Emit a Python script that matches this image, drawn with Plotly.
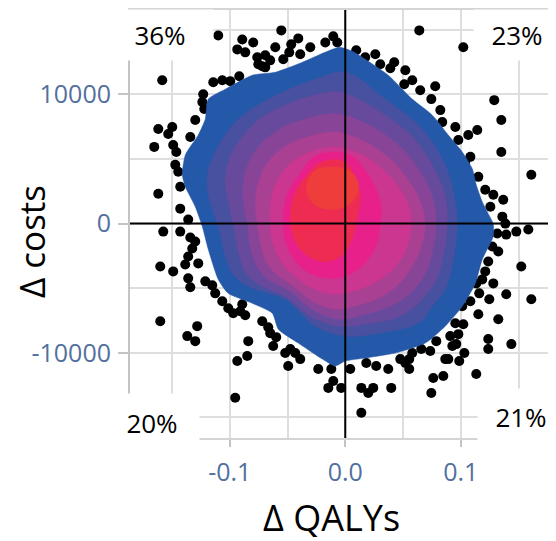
import plotly.graph_objects as go

# ---------------- data ----------------
dots_x = [-0.110, -0.0892, -0.0797, -0.0935, -0.0762, -0.0693, -0.0753, -0.0693, -0.0554, -0.0407, -0.0468, -0.0485,
          -0.0104, -0.0069, 0.0095, 0.0260, 0.0303, 0.0424, 0.0520, 0.0641, 0.1022,
          -0.1585, -0.1143, -0.0996, -0.0918, -0.1238, -0.1221, -0.1619, -0.1498, -0.1533, -0.1654, -0.1490, -0.1472,
          -0.1446, -0.1429, -0.1619, -0.1429,
          -0.1576, -0.1429, -0.1342, -0.1325, -0.1360, -0.1602, -0.1490, -0.1386, -0.1360, -0.1342, -0.1152, -0.1126,
          -0.1602, -0.1368, -0.1299, -0.1282, -0.1013, -0.0970, -0.0892, -0.0866, -0.0840, -0.0849, -0.0935, -0.0953,
          -0.0650, -0.0624, -0.0667, -0.0598, -0.0520, -0.0433, -0.0390, -0.0494,
          -0.0121, -0.0104, -0.0147, -0.0035, 0.0139, 0.0199, 0.0242, 0.0139, 0.0182, 0.0268, 0.0372, 0.0398, 0.0554,
          0.0554, 0.0658, 0.0788, 0.0762, 0.0849, 0.0745, 0.0892, 0.0987, 0.1134, 0.0580, 0.0520,
          0.1134, 0.1282, 0.1160, 0.1394, 0.1611, 0.1247, 0.1152, 0.1325, 0.1022, 0.0979, 0.0961, 0.1031, 0.1238,
          0.1238, 0.1438, 0.1013, 0.0953, 0.0927, 0.0866,
          0.1360, 0.1316, 0.1273, 0.1238, 0.1186, 0.1481, 0.1585, 0.1394, 0.1524, 0.1368, 0.1282, 0.1212,
          0.0511, 0.0779, 0.0745, 0.0840, 0.0953, 0.1065, 0.1143, 0.1083, 0.1290, 0.1351, 0.1351, 0.1611,
          -0.0866, -0.0650, -0.0390, -0.0303, -0.0173, 0.0173, 0.0390, 0.0580, 0.0649, 0.0823, 0.0979, 0.1039,
          0.1152, 0.1256, 0.1386, 0.1325, 0.1212, 0.1083, 0.0909, 0.0736, 0.0476, 0.0043, -0.0234, -0.0476,
          -0.0719, -0.0909, -0.1065, -0.1212, -0.1273, -0.1299, -0.1360, -0.1463, -0.1342, -0.1299, -0.1230,
          -0.1065, -0.0719, -0.0537, -0.0606]
dots_y = [14570, 14260, 14030, 13490, 12880, 13030, 12340, 12100, 14960, 14340, 13880, 13260,
          14500, 14030, 13420, 13110, 12340, 12490, 11870, 14960, 13650,
          11100, 10950, 11030, 11410, 9410, 8870, 7320, 7480, 6940, 5940, 6090, 4550,
          4010, 2850, 2310, 1160,
          -620, -620, -1080, -1930, -2540, -3320, -3700, -3160, -4240, -4930, -4780, -5400,
          -7560, -8710, -9100, -7940, -6550, -6940, -6250, -7090, -9100, -10250, -10640, -13490,
          -8480, -9480, -8020, -8790, -10020, -10020, -10490, -11030,
          -11260, -12180, -12720, -12720, -12720, -13110, -12720, -14650, -10790, -11030, -11260, -12720, -10490,
          -11260, -9710, -9100, -11950, -11800, -13110, -10490, -10640, -11640, -10020, -10790,
          -4630, -4630, -5400, -5470, -5860, -5860, -7020, -7400, -7790, -8560, -9330, -10020, -8940,
          -9710, -9330, -6400, -7710, -9480, -10490,
          540, -770, -1770, -2930, -4320, -620, -460, -850, -3320, 1850, 2240, 2620,
          10790, 10640, 9640, 7860, 7480, 6860, 7250, 5170, 9560, 8020, 5550, 3780,
          13260, 12640, 13110, 13650, 14030, 12880, 12030, 11100, 10330, 8790, 6480, 4780,
          3620, 1310, 0, -2160, -3700, -6010, -8710, -9870, -10490, -11260, -11260, -9710,
          -7560, -6780, -6010, -4470, -3080, -1390, 310, 5550, 6710, 8020, 10020,
          11100, 12180, 12720, 13650]

# density bands (outer boundary of each filled level), outermost first
band1_x = [-0.0043, 0.0061, 0.0173, 0.0372, 0.0580, 0.0753, 0.0892, 0.1013, 0.1100, 0.1134, 0.1186, 0.1238, 0.1281,
           0.1281, 0.1186, 0.1126, 0.1013, 0.0866, 0.0693, 0.0433, 0.0173, 0.0, -0.0087, -0.0199, -0.0407, -0.0580,
           -0.0632, -0.0805, -0.1013, -0.1100, -0.1186, -0.1238, -0.1299, -0.1385, -0.1411, -0.1385, -0.1273, -0.1212,
           -0.1186, -0.1039, -0.0805, -0.0606, -0.0372, -0.0216, -0.0087]
band1_y = [13650, 13340, 12720, 11490, 9640, 8400, 6860, 5550, 4240, 3010, 1700, 770, 0,
           -1000, -2780, -4630, -6400, -7940, -9250, -10020, -10410, -10640, -11030, -10490, -9250, -8170,
           -6940, -6170, -5400, -4320, -2000, -230, 1310, 2850, 3780, 5320, 6860, 8100,
           9640, 10410, 11490, 11720, 12490, 13110, 13570]
band2_x = [0.0, 0.0346, 0.0667, 0.0866, 0.0952, 0.0970, 0.0926, 0.0866, 0.0753, 0.0632, 0.0286, 0.0, -0.0260,
           -0.0519, -0.0840, -0.0978, -0.1039, -0.1100, -0.1160, -0.1195, -0.1186, -0.1126, -0.0952, -0.0667, -0.0260]
band2_y = [11720, 9640, 7320, 4550, 1700, 0, -3320, -5090, -6400, -7710, -8480, -8710, -7940,
           -5860, -4860, -3860, -2540, -230, 1310, 2700, 4240, 5550, 7860, 9640, 11180]
band3_x = [-0.0043, 0.0303, 0.0580, 0.0762, 0.0866, 0.0883, 0.0848, 0.0779, 0.0649, 0.0476, 0.0216, -0.0043, -0.0303,
           -0.0519, -0.0753, -0.0866, -0.0926, -0.0970, -0.1013, -0.1039, -0.1013, -0.0926, -0.0753, -0.0519, -0.0260]
band3_y = [10180, 8640, 6710, 4390, 2080, 0, -2540, -4470, -6010, -7170, -7710, -7940, -7170,
           -5630, -4700, -3700, -2160, 0, 1700, 3240, 4780, 6320, 8020, 9170, 9950]
band4_x = [-0.0061, 0.0234, 0.0476, 0.0649, 0.0753, 0.0788, 0.0753, 0.0693, 0.0563, 0.0390, 0.0173, -0.0061,
           -0.0286, -0.0476, -0.0667, -0.0762, -0.0823, -0.0848, -0.0883, -0.0883, -0.0840, -0.0753, -0.0580, -0.0346]
band4_y = [8480, 7480, 5940, 4010, 2080, 0, -2160, -3860, -5400, -6400, -7020, -7400,
           -6630, -5240, -4320, -3320, -1770, 0, 1700, 3240, 4630, 5940, 7250, 8100]
band5_x = [-0.0078, 0.0173, 0.0390, 0.0545, 0.0649, 0.0693, 0.0649, 0.0563, 0.0442, 0.0286, 0.0113, -0.0078,
           -0.0286, -0.0459, -0.0606, -0.0693, -0.0736, -0.0762, -0.0779, -0.0762, -0.0710, -0.0606, -0.0450, -0.0260]
band5_y = [7090, 6320, 5010, 3390, 1700, 0, -2000, -3550, -4860, -5780, -6320, -6630,
           -6010, -4780, -3860, -2780, -1390, 0, 1540, 2850, 4160, 5400, 6320, 6860]
band6_x = [-0.0095, 0.0130, 0.0320, 0.0459, 0.0545, 0.0571, 0.0537, 0.0450, 0.0329, 0.0173, 0.0026, -0.0104,
           -0.0286, -0.0433, -0.0537, -0.0606, -0.0641, -0.0649, -0.0649, -0.0623, -0.0554, -0.0433, -0.0277]
band6_y = [5940, 5400, 4240, 2850, 1460, 0, -1770, -3160, -4160, -4930, -5320, -5470,
           -5010, -4090, -3160, -2000, -1000, 0, 1310, 2620, 3860, 4930, 5630]
band7_x = [-0.0113, 0.0061, 0.0199, 0.0277, 0.0312, 0.0303, 0.0277, 0.0216, 0.0113, -0.0017, -0.0130, -0.0286,
           -0.0407, -0.0485, -0.0528, -0.0537, -0.0528, -0.0485, -0.0398, -0.0268]
band7_y = [5550, 5240, 3780, 2470, 1160, 0, -1390, -2540, -3550, -4090, -4240, -3930,
           -3160, -2160, -1000, 0, 1310, 2620, 3780, 5170]
band8_x = [-0.0130, 0.0, 0.0095, 0.0130, 0.0113, 0.0087, 0.0043, -0.0043, -0.0173, -0.0303, -0.0407, -0.0459,
           -0.0476, -0.0459, -0.0407, -0.0320, -0.0234]
band8_y = [4930, 4780, 3390, 2080, 930, -230, -1540, -2540, -2930, -2620, -1770, -770,
           310, 1700, 2850, 3860, 4630]
band9_x = [-0.0130, 0.0, 0.0087, 0.0113, 0.0061, -0.0061, -0.0216, -0.0303, -0.0338, -0.0303, -0.0234]
band9_y = [4390, 4240, 3620, 2620, 1700, 1160, 1230, 1850, 2780, 3700, 4240]
band_colors = ["#2458a8", "#4850a0", "#684a9d", "#884598", "#a94092", "#cb3690", "#e8218a", "#ee2c52", "#ef3d3c"]

x_tickvals = [-0.1, 0.0, 0.1]
x_ticktext = ["-0.1", "0.0", "0.1"]
y_tickvals = [-10000, 0, 10000]
y_ticktext = ["-10000", "0", "10000"]

quad_labels = ["36%", "23%", "20%", "21%"]
quad_x = [-0.1604, 0.1491, -0.1674, 0.1521]
quad_y = [14610, 14610, -15460, -15000]
quad_w = [106, 86, 94, 86]
quad_h = [50, 50, 58, 56]

# ---------------- figure ----------------
fig = go.Figure()
fig.add_trace(go.Scatter(x=dots_x, y=dots_y, mode="markers",
                         marker=dict(color="black", size=10, line=dict(width=0)),
                         hoverinfo="skip", showlegend=False))

bands_x = [band1_x, band2_x, band3_x, band4_x, band5_x, band6_x, band7_x, band8_x, band9_x]
bands_y = [band1_y, band2_y, band3_y, band4_y, band5_y, band6_y, band7_y, band8_y, band9_y]
for i, (bx, by, col) in enumerate(zip(bands_x, bands_y, band_colors)):
    fig.add_trace(go.Scatter(x=bx + bx[:1], y=by + by[:1], mode="lines", fill="toself",
                             fillcolor=col, line=dict(color=col, width=0.5,
                                                      shape="spline", smoothing=0.6 if i == 0 else 1.0),
                             hoverinfo="skip", showlegend=False))

grid_col = "#dedede"
tick_font = dict(family="Open Sans", size=25, color="#52709e")
fig.update_xaxes(range=[-0.1864, 0.1816], tickmode="array", tickvals=x_tickvals, ticktext=x_ticktext,
                 showgrid=True, gridcolor=grid_col, gridwidth=1.5,
                 minor=dict(showgrid=True, dtick=0.05, tick0=0, gridcolor=grid_col, gridwidth=1.5),
                 zeroline=False, showline=True, linecolor="#d4d4d4", linewidth=1.5, mirror=True,
                 ticks="outside", ticklen=7, tickwidth=1.5, tickcolor="#c4c4c4",
                 tickfont=tick_font, ticklabelstandoff=4, fixedrange=True)
fig.update_yaxes(range=[-16600, 16540], tickmode="array", tickvals=y_tickvals, ticktext=y_ticktext,
                 showgrid=True, gridcolor=grid_col, gridwidth=1.5,
                 minor=dict(showgrid=True, dtick=5000, tick0=0, gridcolor=grid_col, gridwidth=1.5),
                 zeroline=False, showline=True, linecolor="#c4c4c4", linewidth=2, mirror=False,
                 ticks="outside", ticklen=10, tickwidth=2, tickcolor="#c4c4c4",
                 tickfont=tick_font, ticklabelstandoff=2, fixedrange=True)

# black reference lines at zero, drawn above the density
fig.add_shape(type="line", xref="x", yref="paper", x0=0, x1=0, y0=0, y1=1,
              line=dict(color="black", width=2), layer="above")
fig.add_shape(type="line", xref="paper", yref="y", x0=0, x1=1, y0=0, y1=0,
              line=dict(color="black", width=2), layer="above")

for t, qx, qy, w, h in zip(quad_labels, quad_x, quad_y, quad_w, quad_h):
    fig.add_annotation(x=qx, y=qy, xref="x", yref="y", text=t, showarrow=False,
                       bgcolor="white", width=w, height=h, borderpad=0,
                       font=dict(family="Open Sans", size=26, color="black"))

fig.add_annotation(x=0.475, y=-0.186, xref="paper", yref="paper", text="Δ QALYs", showarrow=False,
                   xanchor="center", yanchor="middle", font=dict(family="Open Sans", size=36, color="black"))
fig.add_annotation(x=-0.2305, y=0.458, xref="paper", yref="paper", text="Δ costs", showarrow=False,
                   textangle=-90, xanchor="center", yanchor="middle",
                   font=dict(family="Open Sans", size=35, color="black"))

# the page body adds an 8px margin, so the figure is 8px smaller than the window
fig.update_layout(width=548, height=533, margin=dict(l=122, r=1, t=0, b=103),
                  paper_bgcolor="white", plot_bgcolor="white", showlegend=False)

fig.write_html("out.html")
